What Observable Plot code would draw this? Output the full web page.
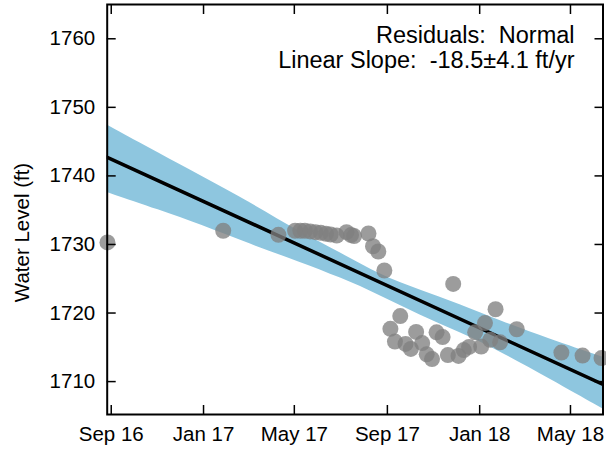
<!DOCTYPE html>
<html><head><meta charset="utf-8">
<script src="https://cdn.jsdelivr.net/npm/d3@7"></script>
<script src="https://cdn.jsdelivr.net/npm/@observablehq/plot@0.6"></script>
<style>body{margin:0;background:#fff} #chart svg{display:block}</style>
</head><body><div id="chart"></div>
<script>
const pointDates = ["2016-08-27","2017-01-27","2017-04-10","2017-05-02","2017-05-09","2017-05-15","2017-05-22","2017-05-29","2017-06-05","2017-06-12","2017-06-18","2017-06-26","2017-07-09","2017-07-15","2017-07-19","2017-08-07","2017-08-13","2017-08-20","2017-08-28","2017-09-05","2017-09-11","2017-09-18","2017-09-25","2017-10-02","2017-10-09","2017-10-17","2017-10-23","2017-10-30","2017-11-05","2017-11-13","2017-11-20","2017-11-27","2017-12-04","2017-12-11","2017-12-18","2017-12-26","2018-01-03","2018-01-08","2018-01-15","2018-01-22","2018-01-28","2018-02-19","2018-04-19","2018-05-17","2018-06-11"];
const pointLevels = [1730.3,1732.0,1731.4,1732.0,1732.0,1732.0,1731.9,1731.8,1731.7,1731.55,1731.45,1731.3,1731.8,1731.37,1731.23,1731.6,1729.74,1728.97,1726.2,1717.69,1715.84,1719.56,1715.5,1714.77,1717.25,1715.62,1713.97,1713.28,1717.19,1716.49,1713.87,1724.25,1713.75,1714.6,1715.06,1717.19,1715.11,1718.54,1716.09,1720.55,1715.73,1717.63,1714.23,1713.79,1713.43];
const bandDates = ["2016-08-26","2016-11-05","2016-12-28","2017-03-04","2017-05-09","2017-07-01","2017-08-23","2017-10-14","2017-12-06","2018-01-28","2018-04-04","2018-06-13"];
const bandUpper = [1747.45,1743.2,1740.05,1736.1,1731.75,1728.8,1725.5,1723.35,1721.25,1718.85,1716.15,1713.55];
const bandLower = [1737.6,1734.95,1732.9,1730.0,1727.4,1725.15,1722.55,1719.65,1717.15,1714.4,1710.35,1706.0];
const fitDates = ["2016-08-26","2018-06-13"];
const fitLevels = [1742.75, 1709.58];
const xTickDates = ["2016-09-01","2017-01-01","2017-05-01","2017-09-01","2018-01-01","2018-05-01"];
const xTickLabels = ["Sep 16","Jan 17","May 17","Sep 17","Jan 18","May 18"];
const yTicks = [1710,1720,1730,1740,1750,1760];
const annotationLines = ["Residuals:\u00a0 Normal", "Linear Slope:\u00a0 -18.5\u00b14.1 ft/yr"];
const yLabel = "Water Level (ft)";

const parse = s => new Date(s + "T00:00:00Z");
const points = pointDates.map((d, i) => ({date: parse(d), level: pointLevels[i]}));
const band = bandDates.map((d, i) => ({date: parse(d), upper: bandUpper[i], lower: bandLower[i]}));
const fit = fitDates.map((d, i) => ({date: parse(d), level: fitLevels[i]}));
const xt = xTickDates.map(parse);
const labelOf = new Map(xt.map((d, i) => [+d, xTickLabels[i]]));

const chart = Plot.plot({
  width: 606, height: 450,
  marginLeft: 106.7, marginRight: 3.5, marginTop: 4, marginBottom: 36,
  style: {fontFamily: "'Liberation Sans', Arial, sans-serif", color: "black", background: "white", overflow: "visible"},
  x: {type: "utc", domain: [new Date("2016-08-26T16:00:00Z"), parse("2018-06-13")]},
  y: {domain: [1705.2, 1765]},
  marks: [
    Plot.areaY(band, {x: "date", y1: "lower", y2: "upper", fill: "#8ec6df", curve: "basis", clip: true}),
    Plot.line(fit, {x: "date", y: "level", stroke: "black", strokeWidth: 3.5, clip: true}),
    Plot.dot(points, {x: "date", y: "level", r: 8, fill: "#808080", fillOpacity: 0.78, stroke: "none"}),
    Plot.axisX(xt, {anchor: "bottom", tickSize: -9, tickFormat: () => "", strokeWidth: 1.5, label: null}),
    Plot.axisX(xt, {anchor: "top", tickSize: -9, tickFormat: () => "", strokeWidth: 1.5, label: null}),
    Plot.axisY(yTicks, {anchor: "left", tickSize: -9, tickFormat: () => "", strokeWidth: 1.5, label: null}),
    Plot.axisY(yTicks, {anchor: "right", tickSize: -9, tickFormat: () => "", strokeWidth: 1.5, label: null}),
    Plot.axisX(xt, {anchor: "bottom", tickSize: 0, tickPadding: 11.5, tickFormat: d => labelOf.get(+d), fontSize: 20.5, label: null}),
    Plot.axisY(yTicks, {anchor: "left", tickSize: 0, tickPadding: 12, tickFormat: d => String(d), fontSize: 20.5, label: null}),
    Plot.frame({stroke: "black", strokeWidth: 2}),
    Plot.text([annotationLines.join("\n")], {frameAnchor: "top-right", textAnchor: "end", lineAnchor: "top", dx: -28.5, dy: 21, fontSize: 23.5, lineHeight: 1.064, fill: "black"}),
    Plot.text([yLabel], {frameAnchor: "left", textAnchor: "middle", rotate: -90, lineAnchor: "bottom", dx: -78.7, dy: 23, fontSize: 20.5, fill: "black"})
  ]
});
document.getElementById("chart").appendChild(chart);
</script>
</body></html>
